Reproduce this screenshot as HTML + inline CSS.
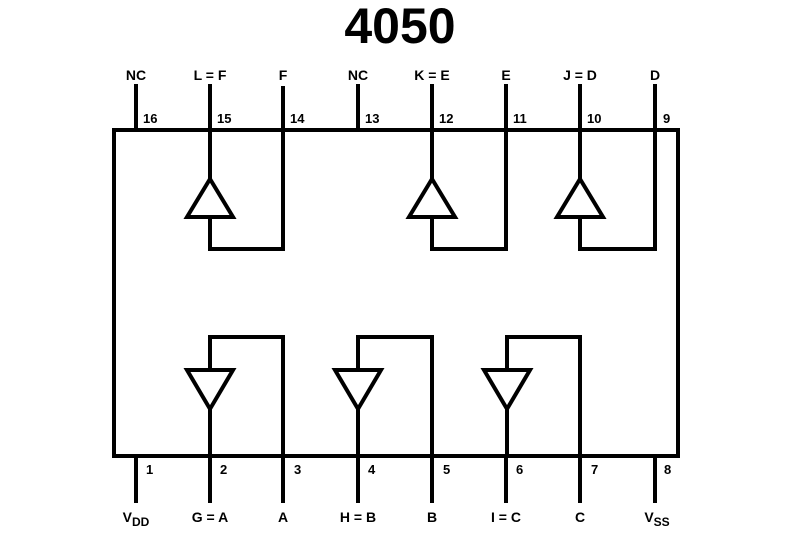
<!DOCTYPE html>
<html><head><style>body{margin:0;background:#fff}svg{display:block}</style></head><body>
<svg width="800" height="534" viewBox="0 0 800 534" xmlns="http://www.w3.org/2000/svg">
<g fill="none" stroke="#000" stroke-width="4" stroke-linecap="square">
<path d="M114 130 H678 V456 H114 Z"/>
<!-- top pins -->
<path d="M136 86V130 M210 86V130 M283 88V249 M358 86V130 M432 86V130 M506 86V249 M580 86V130 M655 86V249"/>
<!-- bottom pins -->
<path d="M136 456V501 M210 456V501 M283 337V501 M358 456V501 M432 337V501 M506 456V501 M580 337V501 M655 456V501"/>
<!-- top buffers -->
<path d="M210 130V179 M187 217 L210 179 L233 217 Z M210 217V249H283"/>
<path d="M432 130V179 M409 217 L432 179 L455 217 Z M432 217V249H506"/>
<path d="M580 130V179 M557 217 L580 179 L603 217 Z M580 217V249H655"/>
<!-- bottom buffers -->
<path d="M187 370 L210 409 L233 370 Z M210 409V456 M210 370V337H283"/>
<path d="M335 370 L358 409 L381 370 Z M358 409V456 M358 370V337H432"/>
<path d="M484 370 L507 409 L530 370 Z M507 409V456 M507 370V337H580"/>
</g>
<g font-family="Liberation Sans, sans-serif" font-weight="bold" fill="#000">
<text x="400" y="43" font-size="50" text-anchor="middle">4050</text>
<g font-size="14" text-anchor="middle">
<text x="136" y="80">NC</text><text x="210" y="80">L = F</text><text x="283" y="80">F</text><text x="358" y="80">NC</text>
<text x="432" y="80">K = E</text><text x="506" y="80">E</text><text x="580" y="80">J = D</text><text x="655" y="80">D</text>
<text x="210" y="522">G = A</text><text x="283" y="522">A</text><text x="358" y="522">H = B</text>
<text x="432" y="522">B</text><text x="506" y="522">I = C</text><text x="580" y="522">C</text>
<text x="136" y="522">V<tspan font-size="12" dy="4">DD</tspan></text>
<text x="657" y="522">V<tspan font-size="12" dy="4">SS</tspan></text>
</g>
<g font-size="13">
<text x="143" y="123">16</text><text x="217" y="123">15</text><text x="290" y="123">14</text><text x="365" y="123">13</text>
<text x="439" y="123">12</text><text x="513" y="123">11</text><text x="587" y="123">10</text><text x="663" y="123">9</text>
<text x="146" y="474">1</text><text x="220" y="474">2</text><text x="294" y="474">3</text><text x="368" y="474">4</text>
<text x="443" y="474">5</text><text x="516" y="474">6</text><text x="591" y="474">7</text><text x="664" y="474">8</text>
</g>
</g>
</svg>
</body></html>
